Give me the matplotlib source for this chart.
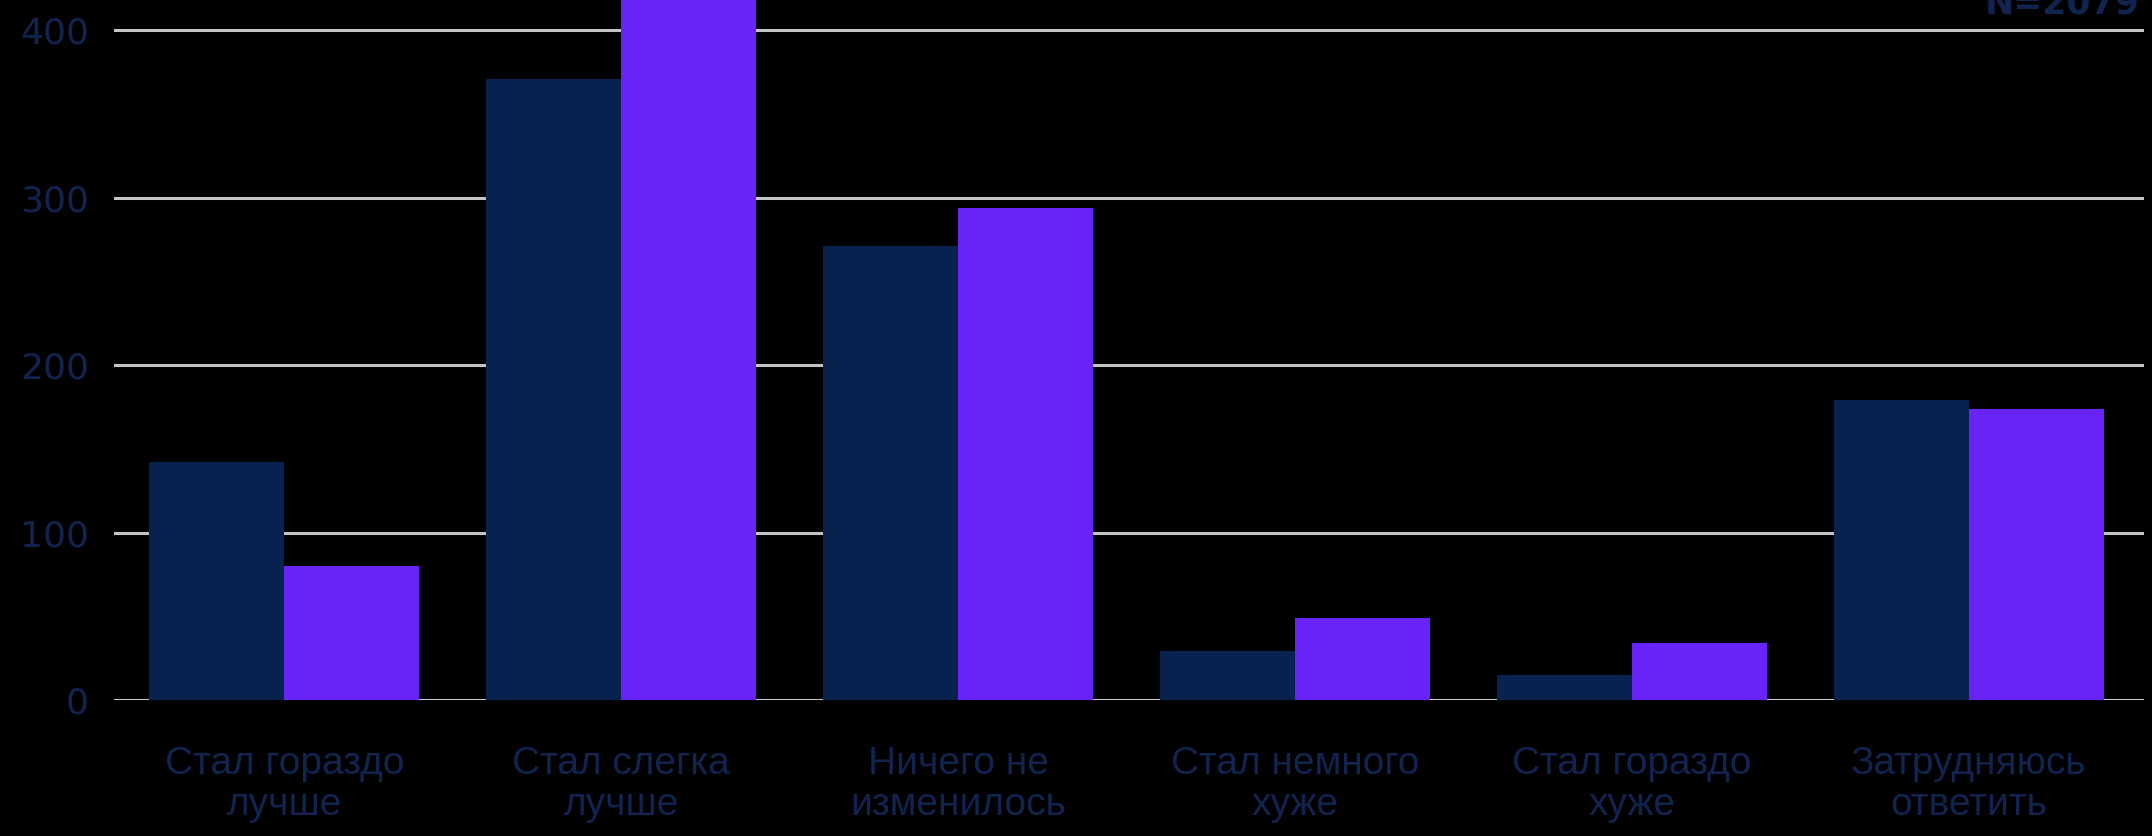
import matplotlib
matplotlib.use("Agg")
import matplotlib.pyplot as plt
import numpy as np

categories = ["Стал гораздо\nлучше", "Стал слегка\nлучше", "Ничего не\nизменилось",
              "Стал немного\nхуже", "Стал гораздо\nхуже", "Затрудняюсь\nответить"]
series_a = [142, 371, 271, 29, 15, 179]
series_b = [80, 441, 294, 49, 34, 174]
yticks = [0, 100, 200, 300, 400]
note = "N=2079"

BG = "#000000"
DARK = "#07224f"
PURPLE = "#6a23f7"
TEXT = "#112450"
GRID = "#c4c4c4"

fig = plt.figure(figsize=(21.52, 8.36), dpi=100, facecolor=BG)
ax = fig.add_axes([0.053, 0.1627, 0.9433, 0.8373])
ax.set_facecolor(BG)

x = np.arange(len(categories))
w = 0.4
ax.bar(x - w / 2, series_a, width=w, color=DARK, zorder=3)
ax.bar(x + w / 2, series_b, width=w, color=PURPLE, zorder=3)

ax.set_ylim(0, 418)
ax.set_xlim(-0.505, 5.52)
ax.set_yticks(yticks)
ax.yaxis.grid(True, color=GRID, linewidth=2.2, zorder=1)
ax.set_axisbelow(True)
for s in ax.spines.values():
    s.set_visible(False)
ax.tick_params(axis="both", length=0)
ax.tick_params(axis="y", pad=18, labelsize=26, labelcolor=TEXT)
ax.set_xticks(x)
ax.set_xticklabels(categories, fontsize=28, color=TEXT, linespacing=1.18,
                   family=["Liberation Sans", "DejaVu Sans"])
ax.tick_params(axis="x", pad=33)

fig.text(2140 / 2152, (836 - 14) / 836, note, ha="right", va="baseline",
         fontsize=25, color=TEXT, fontweight="bold")

fig.savefig("out.png", dpi=100, facecolor=BG)
